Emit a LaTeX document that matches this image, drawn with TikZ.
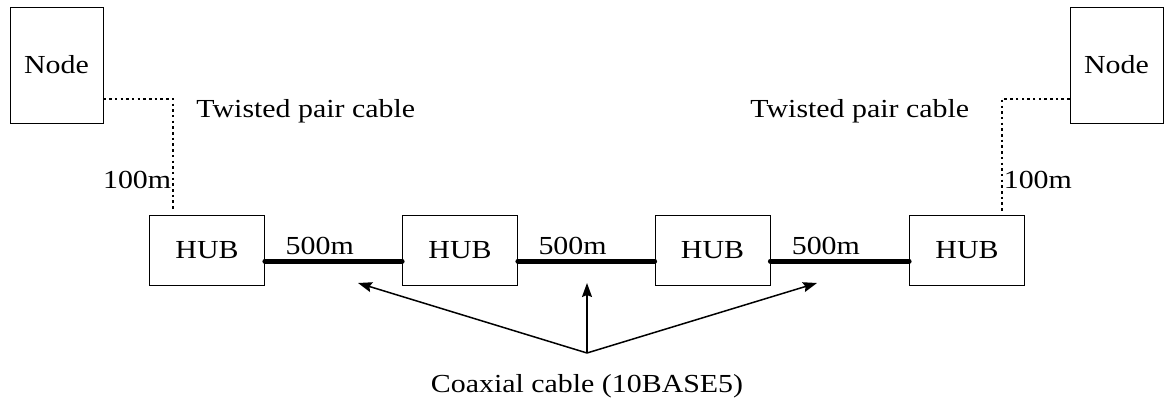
\documentclass[tikz,border=0pt]{standalone}
\usepackage{fontspec}
\setmainfont{Liberation Serif}[FakeStretch=1.15]
\usepackage{tikz}
\usetikzlibrary{arrows.meta}
\usetikzlibrary{positioning}

\begin{document}
\begin{tikzpicture}[x=1pt,y=-1pt,line width=0.8pt,>={Stealth[length=14pt,width=10pt,inset=2pt]},
	font=\fontsize{26}{30}\selectfont,
	end node/.style={rectangle,draw,minimum width=93pt,minimum height=116pt},
	hub node/.style={rectangle,draw,minimum width=115pt,minimum height=70pt},
	twisted/.style={line width=1.6pt,dash pattern=on 2.5pt off 3.2pt},
	coax/.style={line width=5pt,line cap=round}]

	\useasboundingbox (0,0) rectangle (1164,399);

	\node[end node] (nl) at (56.5,65) {Node};
	\node[end node] (nr) at (1116.5,65) {Node};
	\node[hub node] (h1) at (207,250) {HUB};
	\node[hub node] (h2) at (460,250) {HUB};
	\node[hub node] (h3) at (712.5,250) {HUB};
	\node[hub node] (h4) at (967,250) {HUB};

	% twisted pair
	\draw[twisted,shorten >=4pt] ([yshift=-34pt]nl.east) -| node[pos=0.85,left,inner sep=1pt] {100m} ([xshift=-34pt]h1.north);
	\draw[twisted,shorten >=4pt] ([yshift=-34pt]nr.west) -| node[pos=0.85,right,inner sep=1pt] {100m} ([xshift=35pt]h4.north);
	\node[anchor=base west,inner sep=0pt] (tpl) at (196,117) {Twisted pair cable};
	\node[anchor=base west,inner sep=0pt] (tpr) at (750,117) {Twisted pair cable};

	% coaxial
	\draw[coax] ([yshift=-11pt]h1.east) -- node[above,pos=0.4] {500m} ([yshift=-11pt]h2.west);
	\draw[coax] ([yshift=-11pt]h2.east) -- node[above,pos=0.4] {500m} ([yshift=-11pt]h3.west);
	\draw[coax] ([yshift=-11pt]h3.east) -- node[above,pos=0.4] {500m} ([yshift=-11pt]h4.west);

	\node[anchor=base,inner sep=0pt] (cx) at (587,392) {Coaxial cable (10BASE5)};
	\coordinate (fork) at (587,353);
	\draw[->,line width=1.5pt] (fork) -- (358,283);
	\draw[->,line width=1.5pt] (fork) -- (587,283);
	\draw[->,line width=1.5pt] (fork) -- (817,283);

\end{tikzpicture}
\end{document}
